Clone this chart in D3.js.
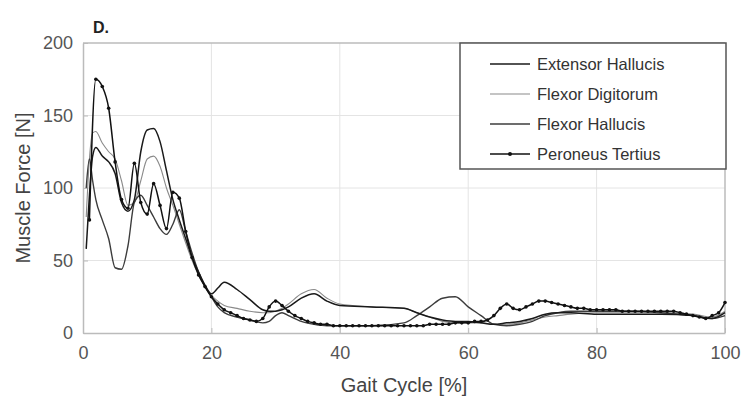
<!DOCTYPE html>
<html><head><meta charset="utf-8">
<script src="https://cdn.jsdelivr.net/npm/d3@7"></script>
<style>body{margin:0;background:#fff}svg{display:block}text{font-family:"Liberation Sans",Arial,sans-serif}</style>
</head><body><svg id="c" width="755" height="399"></svg>
<script>
const seriesNames = ["Extensor Hallucis","Flexor Digitorum","Flexor Hallucis","Peroneus Tertius"];
const xTicks = [0,20,40,60,80,100];
const yTicks = [0,50,100,150,200];

const gridX = [0.5,1,1.5,2,3,4,5,6,7,8,9,10,11,12,13,14,15,16,17,18,19,20,21,22,24,26,28,29,30,31,32,34,36,38,40,45,50,52,54,56,58,60,62,64,66,68,70,72,74,76,80,85,90,95,98,100];
const extensorHallucis = [58,95,122,128,122,118,110,90,84,92,125,140,141,132,112,92,78,65,52,42,33,27,31,35,30,23,16,15,15,16,18,24,27,22,19,18,17,14,11,9,8,8,7,6,7,8,10,13,14,14,13,13,13,12,10,14];
const flexorDigitorum = [80,120,138,139,131,125,120,105,88,90,105,120,122,115,100,88,75,62,50,40,32,26,22,19,17,15,14,14,15,17,20,27,30,24,20,18,17,14,11,8,7,7,7,6,6,7,9,11,12,13,14,14,14,13,11,15];
const flexorHallucis = [100,120,105,92,78,65,45,44,60,90,95,88,80,72,68,75,85,70,55,42,32,25,18,14,11,9,7,8,12,14,12,8,6,5,5,5,7,12,18,24,25,18,12,6,5,6,8,12,14,15,15,15,14,12,10,12];

const peroneusX = d3.range(1,101);
const peroneusTertius = [78,175,170,155,118,92,86,117,90,82,103,88,72,97,93,70,52,40,32,25,20,16,14,12,10,9,8,10,18,22,19,15,12,10,8,7,6,6,5,5,
5,5,5,5,5,5,5,5,5,5,5,5,5,6,6,6,6,7,7,7,8,8,9,12,17,20,17,16,18,20,22,22,21,20,19,18,17,17,16,16,
16,16,16,15,15,15,15,15,15,15,15,15,14,13,12,11,10,12,14,21];

const svg = d3.select("#c");
const L=83,R=725,T=43,B=333;
const x = d3.scaleLinear().domain([0,100]).range([L,R]);
const y = d3.scaleLinear().domain([0,200]).range([B,T]);

// grid
svg.append("g").selectAll("line").data(xTicks.slice(1,-1)).join("line")
 .attr("x1",d=>x(d)).attr("x2",d=>x(d)).attr("y1",T).attr("y2",B).attr("stroke","#e4e4e4").attr("stroke-width",1);
svg.append("g").selectAll("line").data(yTicks.slice(1,-1)).join("line")
 .attr("y1",d=>y(d)).attr("y2",d=>y(d)).attr("x1",L).attr("x2",R).attr("stroke","#e4e4e4").attr("stroke-width",1);

// axes
const ax = svg.append("g").attr("transform",`translate(0,${B})`).call(d3.axisBottom(x).tickValues(xTicks).tickSizeInner(-5).tickSizeOuter(0).tickPadding(13));
const ay = svg.append("g").attr("transform",`translate(${L},0)`).call(d3.axisLeft(y).tickValues(yTicks).tickSizeInner(-5).tickSizeOuter(0).tickPadding(10));
[ax,ay].forEach(g=>{g.select(".domain").attr("stroke","#bbb").attr("stroke-width",1.5);
 g.selectAll(".tick line").attr("stroke","#bbb");
 g.selectAll("text").attr("fill","#555").style("font-size","18px").style("font-family","'Liberation Sans',Arial,sans-serif");});
svg.append("line").attr("x1",L).attr("x2",R).attr("y1",T).attr("y2",T).attr("stroke","#bbb").attr("stroke-width",1.5);
svg.append("line").attr("x1",R).attr("x2",R).attr("y1",T).attr("y2",B).attr("stroke","#bbb").attr("stroke-width",1.5);

// lines
const line = d3.line().x(d=>x(d[0])).y(d=>y(d[1])).curve(d3.curveMonotoneX);
const styles = [
 {c:"#1a1a1a",w:1.5},{c:"#8a8a8a",w:1.1},{c:"#3c3c3c",w:1.4},{c:"#111",w:1.5}
];
const data = [
 gridX.map((d,i)=>[d,extensorHallucis[i]]),
 gridX.map((d,i)=>[d,flexorDigitorum[i]]),
 gridX.map((d,i)=>[d,flexorHallucis[i]]),
 peroneusX.map((d,i)=>[d,peroneusTertius[i]])
];
const plot = svg.append("g");
[1,2,0,3].forEach(k=>{
 plot.append("path").attr("d",line(data[k])).attr("fill","none").attr("stroke",styles[k].c).attr("stroke-width",styles[k].w).attr("stroke-linejoin","round");
});
plot.append("g").selectAll("circle").data(data[3]).join("circle")
 .attr("cx",d=>x(d[0])).attr("cy",d=>y(d[1])).attr("r",1.8).attr("fill","#111");

// labels
svg.append("text").attr("x",93).attr("y",33).style("font-size","16px").style("font-weight","bold").attr("fill","#222").text("D.");
svg.append("text").attr("transform",`translate(30,${(T+B)/2}) rotate(-90)`).attr("text-anchor","middle").style("font-size","20px").attr("fill","#444").text("Muscle Force [N]");
svg.append("text").attr("x",(L+R)/2).attr("y",392).attr("text-anchor","middle").style("font-size","20px").attr("fill","#444").text("Gait Cycle [%]");

// legend
const lg = svg.append("g");
lg.append("rect").attr("x",460).attr("y",43).attr("width",266).attr("height",126).attr("fill","#fff").attr("stroke","#555").attr("stroke-width",1.5);
seriesNames.forEach((n,i)=>{
 const yy = 64+i*30;
 lg.append("line").attr("x1",490).attr("x2",530).attr("y1",yy).attr("y2",yy).attr("stroke",styles[i].c).attr("stroke-width",styles[i].w);
 if(i===3) lg.append("circle").attr("cx",510).attr("cy",yy).attr("r",2).attr("fill","#111");
 lg.append("text").attr("x",537).attr("y",yy+6).style("font-size","16.5px").attr("fill","#333").text(n);
});
</script></body></html>
